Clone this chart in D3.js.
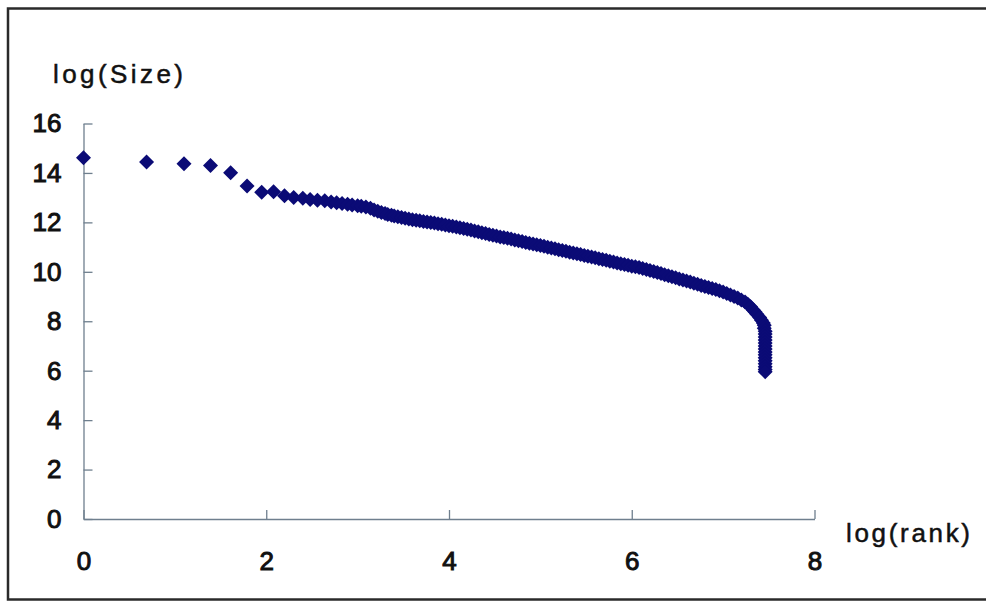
<!DOCTYPE html>
<html>
<head>
<meta charset="utf-8">
<script src="https://cdn.jsdelivr.net/npm/d3@7"></script>
<style>
  html, body { margin: 0; padding: 0; background: #ffffff; }
  svg { display: block; }
  text { font-family: "Liberation Sans", Arial, sans-serif; fill: #111; }
</style>
</head>
<body>
<svg id="chart" width="986" height="601"></svg>
<script>
// log(rank) and log(Size) of each observation
const logRank = [
  0.00, 0.69, 1.10, 1.39, 1.61, 1.79, 1.95, 2.08, 2.20, 2.30,
  2.40, 2.48, 2.56, 2.64, 2.71, 2.77, 2.83, 2.89, 2.94, 3.00,
  3.04, 3.09, 3.14, 3.18, 3.22, 3.26, 3.30, 3.33, 3.37, 3.40,
  3.44, 3.48, 3.52, 3.56, 3.60, 3.64, 3.68, 3.72, 3.76, 3.80,
  3.84, 3.88, 3.92, 3.96, 4.00, 4.04, 4.08, 4.12, 4.16, 4.20,
  4.24, 4.28, 4.32, 4.36, 4.40, 4.44, 4.48, 4.52, 4.56, 4.60,
  4.64, 4.68, 4.72, 4.76, 4.80, 4.84, 4.88, 4.92, 4.96, 5.00,
  5.04, 5.08, 5.12, 5.16, 5.20, 5.24, 5.28, 5.32, 5.36, 5.40,
  5.44, 5.48, 5.52, 5.56, 5.60, 5.64, 5.68, 5.72, 5.76, 5.80,
  5.84, 5.88, 5.92, 5.96, 6.00, 6.04, 6.08, 6.12, 6.16, 6.20,
  6.24, 6.28, 6.32, 6.36, 6.40, 6.44, 6.48, 6.52, 6.56, 6.60,
  6.64, 6.68, 6.72, 6.76, 6.80, 6.84, 6.88, 6.92, 6.96, 7.00,
  7.04, 7.08, 7.12, 7.16, 7.20, 7.24, 7.27, 7.30, 7.33, 7.35,
  7.37, 7.40, 7.42, 7.44, 7.45, 7.45, 7.46, 7.46, 7.46, 7.46,
  7.46, 7.46, 7.46, 7.46, 7.46, 7.46, 7.46, 7.46, 7.46, 7.46,
  7.46
];
const logSize = [
  14.61, 14.44, 14.37, 14.30, 14.01, 13.47, 13.22, 13.24, 13.08, 13.01,
  12.98, 12.93, 12.90, 12.87, 12.82, 12.79, 12.76, 12.73, 12.70, 12.67,
  12.65, 12.62, 12.57, 12.50, 12.45, 12.40, 12.36, 12.32, 12.29, 12.26,
  12.23, 12.20, 12.17, 12.14, 12.11, 12.09, 12.07, 12.04, 12.02, 11.99,
  11.97, 11.94, 11.92, 11.89, 11.86, 11.84, 11.81, 11.78, 11.75, 11.72,
  11.69, 11.65, 11.62, 11.58, 11.55, 11.51, 11.48, 11.45, 11.41, 11.39,
  11.36, 11.33, 11.29, 11.26, 11.23, 11.19, 11.16, 11.13, 11.09, 11.06,
  11.03, 10.99, 10.96, 10.93, 10.89, 10.86, 10.83, 10.79, 10.76, 10.73,
  10.70, 10.66, 10.63, 10.60, 10.57, 10.53, 10.50, 10.47, 10.43, 10.40,
  10.36, 10.33, 10.30, 10.27, 10.23, 10.20, 10.17, 10.13, 10.09, 10.05,
  10.01, 9.97, 9.93, 9.88, 9.84, 9.80, 9.76, 9.71, 9.67, 9.63,
  9.59, 9.54, 9.50, 9.45, 9.41, 9.37, 9.32, 9.28, 9.23, 9.18,
  9.12, 9.06, 9.00, 8.94, 8.86, 8.78, 8.69, 8.59, 8.46, 8.37,
  8.28, 8.15, 8.04, 7.93, 7.84, 7.72, 7.60, 7.48, 7.36, 7.24,
  7.12, 7.00, 6.88, 6.76, 6.64, 6.52, 6.40, 6.28, 6.16, 6.05,
  5.96
];

// axis ticks and titles
const xTicks = [0, 2, 4, 6, 8];
const yTicks = [0, 2, 4, 6, 8, 10, 12, 14, 16];
const xTitle = "log(rank)";
const yTitle = "log(Size)";

const svg = d3.select("#chart");

// outer frame
svg.append("rect")
  .attr("x", 8).attr("y", 8.5)
  .attr("width", 1000).attr("height", 591)
  .attr("fill", "#ffffff")
  .attr("stroke", "#2a2a2a")
  .attr("stroke-width", 2.5);

const x = d3.scaleLinear().domain([0, 8]).range([83.5, 814.5]);
const y = d3.scaleLinear().domain([0, 16]).range([519, 123.5]);

const axisColor = "#6f7f8e";

const gx = svg.append("g")
  .attr("transform", `translate(0,${y(0)})`)
  .call(d3.axisBottom(x).tickValues(xTicks).tickFormat(d3.format("d"))
    .tickSizeInner(-9).tickSizeOuter(0).tickPadding(33));

const gy = svg.append("g")
  .attr("transform", `translate(${x(0)},0)`)
  .call(d3.axisLeft(y).tickValues(yTicks).tickFormat(d3.format("d"))
    .tickSizeInner(-9).tickSizeOuter(0).tickPadding(22));

[gx, gy].forEach(g => {
  g.select(".domain").attr("stroke", axisColor).attr("stroke-width", 1.3);
  g.selectAll(".tick line").attr("stroke", axisColor).attr("stroke-width", 1.3);
  g.selectAll(".tick text")
    .attr("fill", "#111")
    .attr("stroke", "#111")
    .attr("stroke-width", 1.0)
    .style("font-family", '"Liberation Sans", Arial, sans-serif')
    .style("font-size", "26px");
});

// axis titles
svg.append("text")
  .attr("x", 53).attr("y", 83)
  .attr("textLength", 130).attr("lengthAdjust", "spacing")
  .attr("stroke", "#111").attr("stroke-width", 0.5)
  .style("font-size", "26px")
  .text(yTitle);

svg.append("text")
  .attr("x", 846).attr("y", 542)
  .attr("textLength", 124).attr("lengthAdjust", "spacing")
  .attr("stroke", "#111").attr("stroke-width", 0.5)
  .style("font-size", "26px")
  .text(xTitle);

// diamond marker (square rotated 45 degrees)
const diamond = {
  draw(context, size) {
    const r = Math.sqrt(size) / 2;
    context.moveTo(0, -r);
    context.lineTo(r, 0);
    context.lineTo(0, r);
    context.lineTo(-r, 0);
    context.closePath();
  }
};
const marker = d3.symbol(diamond, 225);

const points = logRank.map((r, i) => ({ r, s: logSize[i] }));

svg.append("g")
  .selectAll("path")
  .data(points)
  .join("path")
  .attr("d", marker)
  .attr("transform", d => `translate(${x(d.r)},${y(d.s)})`)
  .attr("fill", "#0b0b76");
</script>
</body>
</html>
